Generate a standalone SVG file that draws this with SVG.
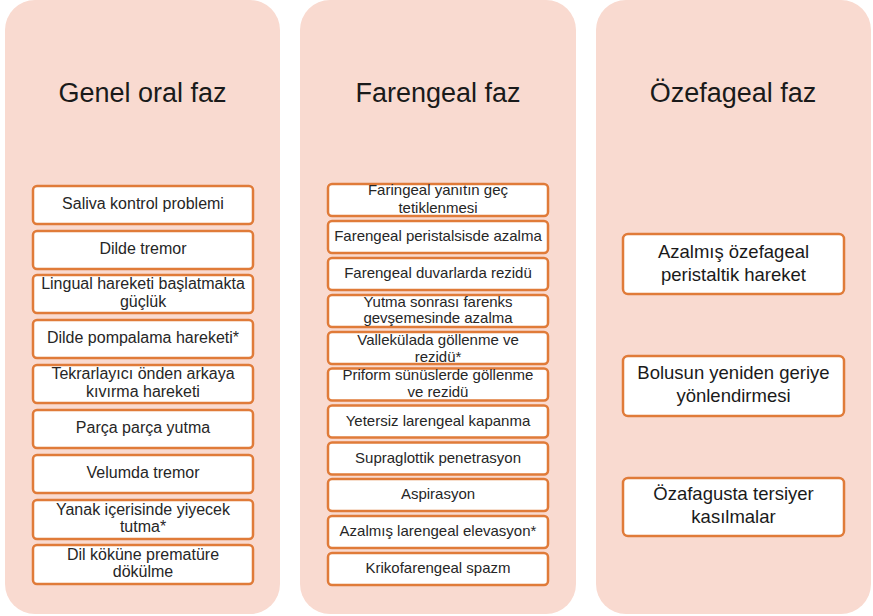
<svg xmlns="http://www.w3.org/2000/svg" width="873" height="616" viewBox="0 0 873 616">
<style>
.col{fill:#F9DAD0;}
.box{fill:#FFFFFF;stroke:#E07B39;stroke-width:2.5;}
text{font-family:"Liberation Sans",Arial,sans-serif;fill:#262626;text-anchor:middle;}
.title{font-size:27px;fill:#1a1a1a;}
.t1{font-size:16px;}
.t2{font-size:15px;}
.t3{font-size:18.5px;fill:#1a1a1a;}
</style>
<rect width="873" height="616" fill="#FFFFFF"/>
<g id="col-oral">
<rect class="col" x="5" y="0" width="275" height="614" rx="30"/>
<text class="title" x="142.5" y="102">Genel oral faz</text>
</g>
<g id="col-farengeal">
<rect class="col" x="300" y="0" width="276" height="614" rx="30"/>
<text class="title" x="438" y="102">Farengeal faz</text>
</g>
<g id="col-ozefageal">
<rect class="col" x="596" y="0" width="275" height="614" rx="30"/>
<text class="title" x="733" y="102">Özefageal faz</text>
</g>
<g id="connectors"></g>
<g id="o1"><rect class="box" x="33" y="186" width="220" height="38" rx="4"/><text class="t1" x="143" y="209">Saliva kontrol problemi</text></g>
<g id="o2"><rect class="box" x="33" y="231" width="220" height="38" rx="4"/><text class="t1" x="143" y="254">Dilde tremor</text></g>
<g id="o3"><rect class="box" x="33" y="275" width="220" height="38" rx="4"/><text class="t1" x="143" y="289">Lingual hareketi başlatmakta</text><text class="t1" x="143" y="307">güçlük</text></g>
<g id="o4"><rect class="box" x="33" y="320" width="220" height="38" rx="4"/><text class="t1" x="143" y="343">Dilde pompalama hareketi*</text></g>
<g id="o5"><rect class="box" x="33" y="365" width="220" height="38" rx="4"/><text class="t1" x="143" y="379">Tekrarlayıcı önden arkaya</text><text class="t1" x="143" y="397">kıvırma hareketi</text></g>
<g id="o6"><rect class="box" x="33" y="410" width="220" height="38" rx="4"/><text class="t1" x="143" y="433">Parça parça yutma</text></g>
<g id="o7"><rect class="box" x="33" y="455" width="220" height="38" rx="4"/><text class="t1" x="143" y="478">Velumda tremor</text></g>
<g id="o8"><rect class="box" x="33" y="500" width="220" height="39" rx="4"/><text class="t1" x="143" y="515">Yanak içerisinde yiyecek</text><text class="t1" x="143" y="532">tutma*</text></g>
<g id="o9"><rect class="box" x="33" y="545" width="220" height="39" rx="4"/><text class="t1" x="143" y="560">Dil köküne prematüre</text><text class="t1" x="143" y="577">dökülme</text></g>
<g id="f1"><rect class="box" x="328" y="184" width="220" height="32" rx="4"/><text class="t2" x="438" y="195">Faringeal yanıtın geç</text><text class="t2" x="438" y="213">tetiklenmesi</text></g>
<g id="f2"><rect class="box" x="328" y="221" width="220" height="32" rx="4"/><text class="t2" x="438" y="241">Farengeal peristalsisde azalma</text></g>
<g id="f3"><rect class="box" x="328" y="258" width="220" height="32" rx="4"/><text class="t2" x="438" y="278">Farengeal duvarlarda rezidü</text></g>
<g id="f4"><rect class="box" x="328" y="295" width="220" height="32" rx="4"/><text class="t2" x="438" y="307">Yutma sonrası farenks</text><text class="t2" x="438" y="323">gevşemesinde azalma</text></g>
<g id="f5"><rect class="box" x="328" y="332" width="220" height="32" rx="4"/><text class="t2" x="438" y="345">Vallekülada göllenme ve</text><text class="t2" x="438" y="362">rezidü*</text></g>
<g id="f6"><rect class="box" x="328" y="368.5" width="220" height="32" rx="4"/><text class="t2" x="438" y="380">Priform sünüslerde göllenme</text><text class="t2" x="438" y="397">ve rezidü</text></g>
<g id="f7"><rect class="box" x="328" y="405.5" width="220" height="32" rx="4"/><text class="t2" x="438" y="425.5">Yetersiz larengeal kapanma</text></g>
<g id="f8"><rect class="box" x="328" y="442.5" width="220" height="32" rx="4"/><text class="t2" x="438" y="462.5">Supraglottik penetrasyon</text></g>
<g id="f9"><rect class="box" x="328" y="479" width="220" height="32" rx="4"/><text class="t2" x="438" y="499">Aspirasyon</text></g>
<g id="f10"><rect class="box" x="328" y="516" width="220" height="32" rx="4"/><text class="t2" x="438" y="536">Azalmış larengeal elevasyon*</text></g>
<g id="f11"><rect class="box" x="328" y="553" width="220" height="32" rx="4"/><text class="t2" x="438" y="573">Krikofarengeal spazm</text></g>
<g id="e1"><rect class="box" x="623" y="234" width="221" height="60" rx="5"/><text class="t3" x="733.5" y="258">Azalmış özefageal</text><text class="t3" x="733.5" y="281">peristaltik hareket</text></g>
<g id="e2"><rect class="box" x="623" y="356" width="221" height="60" rx="5"/><text class="t3" x="733.5" y="379">Bolusun yeniden geriye</text><text class="t3" x="733.5" y="402">yönlendirmesi</text></g>
<g id="e3"><rect class="box" x="623" y="478" width="221" height="58" rx="5"/><text class="t3" x="733.5" y="500">Özafagusta tersiyer</text><text class="t3" x="733.5" y="523">kasılmalar</text></g>
</svg>
